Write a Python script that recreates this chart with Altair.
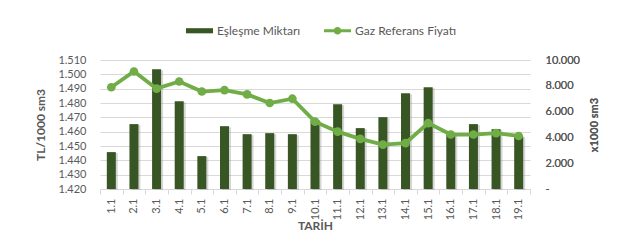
import altair as alt
import pandas as pd

dates = ["1.1", "2.1", "3.1", "4.1", "5.1", "6.1", "7.1", "8.1", "9.1", "10.1",
         "11.1", "12.1", "13.1", "14.1", "15.1", "16.1", "17.1", "18.1", "19.1"]
eslesme = [2860, 5030, 9280, 6810, 2550, 4870, 4250, 4330, 4250, 5340,
           6570, 4720, 5570, 7430, 7890, 4200, 5030, 4640, 4100]
gaz = [1491, 1502, 1490, 1495, 1488, 1489, 1486, 1480, 1483, 1467,
       1460, 1455, 1451, 1452, 1466, 1458, 1458, 1459, 1457]
left_ticks = [1420, 1430, 1440, 1450, 1460, 1470, 1480, 1490, 1500, 1510]
right_ticks = [0, 2000, 4000, 6000, 8000, 10000]
series = ["Eşleşme Miktarı", "Gaz Referans Fiyatı"]

df = pd.DataFrame({"TARIH": dates, "esl": eslesme, "gaz": gaz})

FONT = "Lato"
GRAY = "#595959"
GRID = "#D9D9D9"
DARK = "#375623"
LIGHT = "#70AD47"

sym_expr = ("datum.value == '" + series[0] + "' ? 'M-1,-0.19L1,-0.19L1,0.19L-1,0.19Z' : "
            "'M-1,-0.11L1,-0.11L1,0.11L-1,0.11Z M-0.28,0A0.28,0.28 0 1,1 0.28,0A0.28,0.28 0 1,1 -0.28,0Z'")

color_scale = alt.Scale(domain=series, range=[DARK, LIGHT])
legend = alt.Legend(title=None, orient="none", legendX=86, legendY=-43,
                    direction="horizontal", symbolSize=729,
                    symbolType=alt.ExprRef(expr=sym_expr),
                    symbolStrokeWidth=0, labelFontSize=12, labelColor=GRAY,
                    labelFont=FONT, columnPadding=23, labelOffset=4)
color_enc = alt.Color("s:N", scale=color_scale, legend=legend)

x_enc = alt.X("TARIH:N", sort=dates, title="TARİH",
              scale=alt.Scale(paddingInner=0, paddingOuter=0),
              axis=alt.Axis(labelAngle=270, tickBand="extent", tickSize=5,
                            tickColor=GRID, domainColor=GRID, labelPadding=4,
                            labelColor=GRAY, labelFontSize=11, labelFont=FONT,
                            titleColor=GRAY, titleFont=FONT, titleFontSize=12,
                            titleFontWeight="bold", titlePadding=1))

y_right = alt.Y("esl:Q", scale=alt.Scale(domain=[0, 10000]),
                axis=alt.Axis(orient="right", values=right_ticks, grid=False,
                              domain=False, ticks=False, labelPadding=15,
                              labelExpr="datum.value == 0 ? '-' : replace(format(datum.value, ',d'), ',', '.')",
                              labelColor=GRAY, labelFontSize=11, labelFont=FONT,
                              title="x1000 sm3", titleColor=GRAY, titleFont=FONT,
                              titleFontSize=11, titleFontWeight="bold", titlePadding=20,
                              titleAngle=270))

base = alt.Chart(df)

shadow = base.mark_bar(size=9, color="#8a8a8a", opacity=0.35, xOffset=2, yOffset=1).encode(
    x=x_enc, y=y_right)

bars = base.transform_calculate(s="'" + series[0] + "'").mark_bar(size=9).encode(
    x=x_enc, y=y_right, color=color_enc)

line = base.transform_calculate(s="'" + series[1] + "'").mark_line(
    strokeWidth=3.8, point=alt.OverlayMarkDef(filled=True, size=75)).encode(
    x=alt.X("TARIH:N", sort=dates),
    y=alt.Y("gaz:Q", scale=alt.Scale(domain=[1420, 1510], zero=False),
            axis=alt.Axis(orient="left", values=left_ticks, grid=True, gridColor=GRID,
                          domain=False, ticks=False, labelPadding=14,
                          labelExpr="replace(format(datum.value, ',d'), ',', '.')",
                          labelColor=GRAY, labelFontSize=11, labelFont=FONT,
                          title="TL/1000 sm3", titleColor=GRAY, titleFont=FONT,
                          titleFontSize=12, titleFontWeight="bold", titlePadding=10)),
    color=color_enc)

chart = alt.layer(shadow, bars, line).resolve_scale(y="independent").properties(
    width=430, height=129,
    autosize=alt.AutoSizeParams(type="none"),
    padding={"left": 100, "top": 60, "right": 88, "bottom": 61},
    background="white",
).configure_view(stroke=None)

chart.save("out.html", embed_options={"renderer": "svg", "actions": False})
